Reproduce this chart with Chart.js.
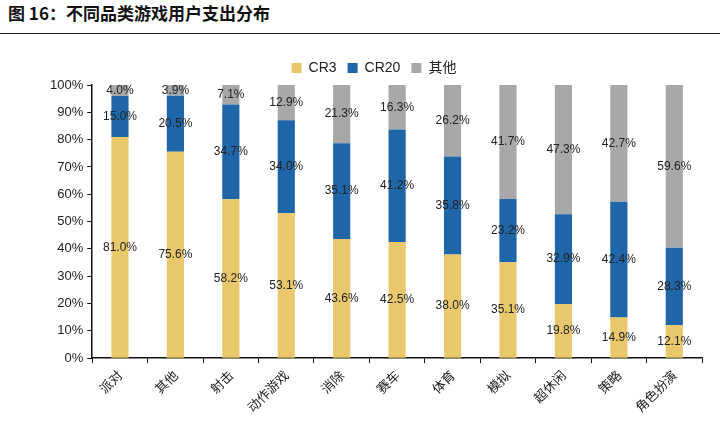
<!DOCTYPE html>
<html>
<head>
<meta charset="utf-8">
<script src="https://cdn.jsdelivr.net/npm/chart.js@4/dist/chart.umd.min.js"></script>
<style>
  body { margin: 0; background: #fff; }
  #title {
    height: 33px; line-height: 36px; padding-left: 8px;
    font: bold 17px "Noto Sans CJK SC", sans-serif; color: #111;
    border-bottom: 1.5px solid #222;
  }
  #wrap { position: relative; width: 720px; height: 387px; }
</style>
</head>
<body>
<div id="title">图 16：不同品类游戏用户支出分布</div>
<div id="wrap"><canvas id="c"></canvas></div>
<script>
const categories = ['派对', '其他', '射击', '动作游戏', '消除', '赛车', '体育', '模拟', '超休闲', '策略', '角色扮演'];
const cr3 = [81.0, 75.6, 58.2, 53.1, 43.6, 42.5, 38.0, 35.1, 19.8, 14.9, 12.1];
const cr20 = [15.0, 20.5, 34.7, 34.0, 35.1, 41.2, 35.8, 23.2, 32.9, 42.4, 28.3];
const others = [4.0, 3.9, 7.1, 12.9, 21.3, 16.3, 26.2, 41.7, 47.3, 42.7, 59.6];

// draw value labels in the middle of each segment
const segLabels = {
    id: 'segLabels',
    afterDatasetsDraw(chart) {
        const ctx = chart.ctx;
        ctx.save();
        ctx.font = '12px "Liberation Sans", Arial, sans-serif';
        ctx.fillStyle = '#222';
        ctx.textAlign = 'center';
        ctx.textBaseline = 'middle';
        chart.data.datasets.forEach((ds, i) => {
            chart.getDatasetMeta(i).data.forEach((bar, j) => {
                const y = (bar.y + bar.base) / 2;
                ctx.fillText(ds.data[j].toFixed(1) + '%', bar.x, y);
            });
        });
        ctx.restore();
    }
};

new Chart(document.getElementById('c'), {
    type: 'bar',
    data: {
        labels: categories,
        datasets: [
            { label: 'CR3', data: cr3, backgroundColor: '#E9C86B' },
            { label: 'CR20', data: cr20, backgroundColor: '#1F66A8' },
            { label: '其他', data: others, backgroundColor: '#A8A8A8' }
        ]
    },
    options: {
        responsive: true,
        maintainAspectRatio: false,
        animation: false,
        categoryPercentage: 1,
        barPercentage: 0.31,
        layout: { padding: { left: 46, right: 18, top: 16, bottom: 2 } },
        plugins: {
            tooltip: { enabled: false },
            legend: {
                labels: {
                    boxWidth: 10, boxHeight: 10, padding: 11,
                    color: '#222',
                    font: { size: 14, family: '"Liberation Sans", "Noto Sans CJK SC", sans-serif' }
                }
            }
        },
        scales: {
            x: {
                stacked: true,
                grid: { drawOnChartArea: false, color: '#111', tickLength: 5 },
                border: { color: '#111', width: 1.5 },
                ticks: {
                    color: '#222', minRotation: 45, maxRotation: 45, padding: 4,
                    font: { size: 13, family: '"Noto Sans CJK SC", sans-serif' }
                }
            },
            y: {
                stacked: true,
                min: 0, max: 100,
                grid: { drawOnChartArea: false, color: '#111', tickLength: 5 },
                border: { color: '#111', width: 1.5 },
                ticks: {
                    stepSize: 10, color: '#222', padding: 4,
                    font: { size: 13, family: '"Liberation Sans", Arial, sans-serif' },
                    callback: v => v + '%'
                }
            }
        }
    },
    plugins: [segLabels]
});
</script>
</body>
</html>
